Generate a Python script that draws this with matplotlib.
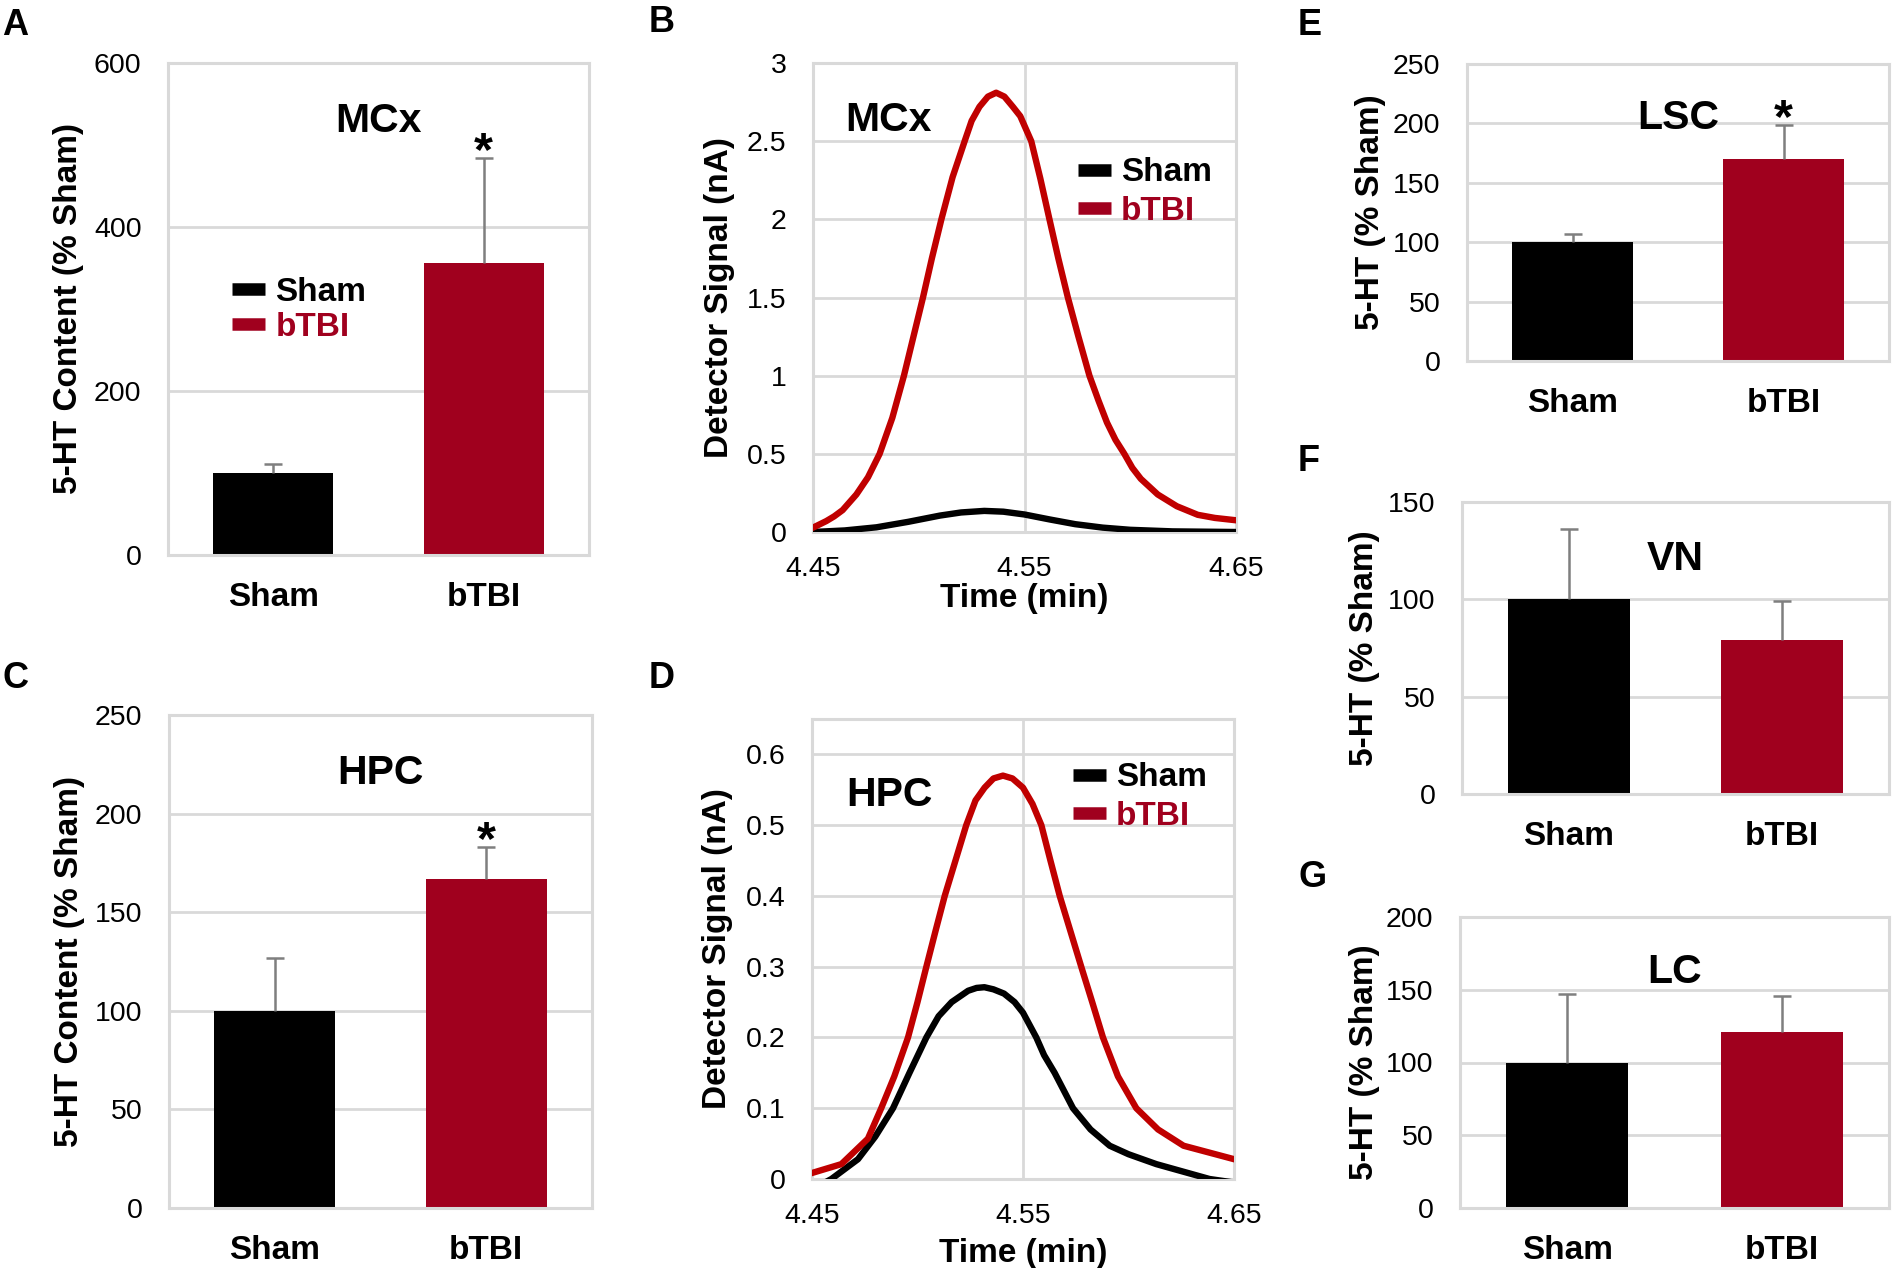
import matplotlib
matplotlib.use('Agg')
import matplotlib.pyplot as plt
from matplotlib.lines import Line2D
from matplotlib.ticker import FuncFormatter

plt.rcParams['font.family'] = ['Liberation Sans', 'DejaVu Sans']

# ---- data ----
groups = ['Sham', 'bTBI']

mcx_mean = [100, 356]
mcx_err = [11, 128]
hpc_mean = [100, 167]
hpc_err = [27, 16]
lsc_mean = [100, 170]
lsc_err = [7, 29]
vn_mean = [100, 79]
vn_err = [36, 20]
lc_mean = [100, 121]
lc_err = [47, 25]

# chromatograms, time (min) and detector signal (nA)
mcx_sham_t = [4.450, 4.465, 4.480, 4.495, 4.510, 4.520, 4.531, 4.540, 4.550, 4.562,
              4.574, 4.587, 4.600, 4.620, 4.650]
mcx_sham_v = [0.000, 0.010, 0.030, 0.065, 0.105, 0.125, 0.135, 0.130, 0.112, 0.080,
              0.050, 0.028, 0.014, 0.004, 0.000]
mcx_btbi_t = [4.4500, 4.4563, 4.4600, 4.4640, 4.4705, 4.4760, 4.4815, 4.4875, 4.4930,
              4.4975, 4.5020, 4.5062, 4.5107, 4.5160, 4.5217, 4.5250, 4.5287, 4.5327,
              4.5366, 4.5405, 4.5445, 4.5480, 4.5532, 4.5575, 4.5618, 4.5660, 4.5705,
              4.5755, 4.5807, 4.5850, 4.5890, 4.5930, 4.5972, 4.6010, 4.6050, 4.6130,
              4.6220, 4.6319, 4.6400, 4.6500]
mcx_btbi_v = [0.028, 0.07, 0.10, 0.14, 0.24, 0.35, 0.50, 0.73, 1.00,
              1.25, 1.50, 1.75, 2.00, 2.27, 2.50, 2.63, 2.72, 2.785,
              2.81, 2.785, 2.72, 2.66, 2.50, 2.26, 2.00, 1.75, 1.50,
              1.25, 1.00, 0.84, 0.70, 0.59, 0.50, 0.41, 0.34, 0.24,
              0.165, 0.11, 0.09, 0.075]

hpc_sham_t = [4.4500, 4.4592, 4.4718, 4.4800, 4.4884, 4.4962, 4.5042, 4.5100, 4.5162,
              4.5240, 4.5280, 4.5317, 4.5360, 4.5410, 4.5460, 4.5500, 4.5563, 4.5600,
              4.5650, 4.5737, 4.5820, 4.5911, 4.6000, 4.6132, 4.6384, 4.6500]
hpc_sham_v = [-0.015, 0.000, 0.028, 0.060, 0.100, 0.150, 0.200, 0.230, 0.250,
              0.266, 0.270, 0.271, 0.268, 0.262, 0.250, 0.235, 0.200, 0.175,
              0.150, 0.100, 0.070, 0.047, 0.035, 0.021, 0.000, -0.005]
hpc_btbi_t = [4.4500, 4.4639, 4.4765, 4.4828, 4.4890, 4.4955, 4.5000, 4.5042, 4.5085,
              4.5129, 4.5180, 4.5231, 4.5275, 4.5318, 4.5360, 4.5405, 4.5450, 4.5500,
              4.5545, 4.5587, 4.5630, 4.5674, 4.5725, 4.5776, 4.5828, 4.5879, 4.5950,
              4.6037, 4.6140, 4.6261, 4.6500]
hpc_btbi_v = [0.0085, 0.021, 0.057, 0.100, 0.145, 0.200, 0.250, 0.300, 0.350,
              0.400, 0.450, 0.500, 0.535, 0.553, 0.566, 0.570, 0.566, 0.553,
              0.530, 0.500, 0.450, 0.400, 0.350, 0.300, 0.250, 0.200, 0.145,
              0.100, 0.070, 0.047, 0.028]

# ---- style ----
W, H = 1892, 1268
grid_c = '#D9D9D9'
bar_red = '#A0001E'
line_red = '#C00000'
err_c = '#7F7F7F'
tick_fs = 20.5
lab_fs = 24
title_fs = 29.5
leg_fs = 24

fig = plt.figure(figsize=(W / 100, H / 100), dpi=100)


def make_ax(l, t, r, b):
    ax = fig.add_axes([l / W, 1 - b / H, (r - l) / W, (b - t) / H])
    for s in ax.spines.values():
        s.set_color(grid_c)
        s.set_linewidth(2.2)
    ax.tick_params(length=0, labelsize=tick_fs)
    ax.set_axisbelow(True)
    return ax


def legend(ax, xy, spacing):
    handles = [Line2D([], [], color='black', lw=9, solid_capstyle='butt'),
               Line2D([], [], color=bar_red, lw=9, solid_capstyle='butt')]
    ax.legend(handles, groups, loc='upper left', bbox_to_anchor=xy,
              frameon=False, borderpad=0, borderaxespad=0, handlelength=1.0,
              handletextpad=0.3, labelspacing=spacing,
              prop={'size': leg_fs, 'weight': 'bold'},
              labelcolor=['black', bar_red])


def bar_panel(rect, means, errs, ymax, step, ylabel, title, title_y, lab_x, star=False):
    ax = make_ax(*rect)
    x = list(range(len(groups)))
    tops = [m + e for m, e in zip(means, errs)]
    ax.bar(x, means, width=0.57, color=['black', bar_red], zorder=2)
    ax.vlines(x, means, tops, color=err_c, linewidth=1.8, zorder=3)
    ax.plot(x, tops, ls='none', marker='_', ms=12.6, mew=1.8, color=err_c, zorder=3)
    ax.set_xlim(-0.5, 1.5)
    ax.set_ylim(0, ymax)
    ax.set_yticks(range(0, ymax + 1, step))
    ax.set_xticks(x)
    ax.set_xticklabels(groups, fontsize=lab_fs, fontweight='bold')
    ax.tick_params(axis='x', pad=19.5)
    ax.tick_params(axis='y', pad=19)
    ax.yaxis.grid(True, color=grid_c, linewidth=2)
    ax.set_ylabel(ylabel, fontsize=lab_fs, fontweight='bold')
    ax.yaxis.set_label_coords(lab_x, 0.5)
    ax.text(0.5, title_y, title, transform=ax.transAxes, ha='center', va='baseline',
            fontsize=title_fs, fontweight='bold')
    if star:
        ax.annotate('*', (1, tops[1]), xytext=(0, -5), textcoords='offset points',
                    ha='center', va='baseline', fontsize=35, fontweight='bold')
    return ax


def trace_panel(rect, sham_t, sham_v, btbi_t, btbi_v, ymax, yticks, title, title_xy,
                leg_xy, lab_x, xlab_y):
    ax = make_ax(*rect)
    ax.plot(sham_t, sham_v, color='black', lw=4.6, solid_joinstyle='round', zorder=3)
    ax.plot(btbi_t, btbi_v, color=line_red, lw=4.6, solid_joinstyle='round', zorder=3)
    ax.set_xlim(4.45, 4.65)
    ax.set_ylim(0, ymax)
    ax.set_xticks([4.45, 4.55, 4.65])
    ax.set_yticks(yticks)
    fmt = FuncFormatter(lambda v, p: '%g' % round(v, 3))
    ax.xaxis.set_major_formatter(fmt)
    ax.yaxis.set_major_formatter(fmt)
    ax.tick_params(axis='x', pad=17.5)
    ax.tick_params(axis='y', pad=19)
    ax.grid(True, color=grid_c, linewidth=2)
    ax.set_ylabel('Detector Signal (nA)', fontsize=lab_fs, fontweight='bold')
    ax.yaxis.set_label_coords(lab_x, 0.5)
    ax.set_xlabel('Time (min)', fontsize=lab_fs, fontweight='bold')
    ax.xaxis.set_label_coords(0.5, xlab_y)
    ax.text(title_xy[0], title_xy[1], title, transform=ax.transAxes, ha='left',
            va='baseline', fontsize=title_fs, fontweight='bold')
    legend(ax, leg_xy, 0.22)
    return ax


# A
axA = bar_panel((168, 63, 589, 555), mcx_mean, mcx_err, 600, 200,
                '5-HT Content (% Sham)', 'MCx', 0.860, -0.20, star=True)
legend(axA, (0.152, 0.565), 0.11)

# B
trace_panel((813, 63, 1236, 532), mcx_sham_t, mcx_sham_v, mcx_btbi_t, mcx_btbi_v,
            3, [0, 0.5, 1, 1.5, 2, 2.5, 3], 'MCx', (0.076, 0.855), (0.626, 0.799),
            -0.184, -0.109)

# C
bar_panel((169, 715, 592, 1208), hpc_mean, hpc_err, 250, 50,
          '5-HT Content (% Sham)', 'HPC', 0.86, -0.199, star=True)

# D
trace_panel((812, 719, 1234, 1179), hpc_sham_t, hpc_sham_v, hpc_btbi_t, hpc_btbi_v,
            0.65, [0, 0.1, 0.2, 0.3, 0.4, 0.5, 0.6], 'HPC', (0.081, 0.811),
            (0.618, 0.906), -0.187, -0.128)

# E, F, G
bar_panel((1467, 64, 1889, 361), lsc_mean, lsc_err, 250, 50,
          '5-HT (% Sham)', 'LSC', 0.780, -0.192, star=True)
bar_panel((1462, 502, 1889, 794), vn_mean, vn_err, 150, 50,
          '5-HT (% Sham)', 'VN', 0.768, -0.192)
bar_panel((1460, 917, 1889, 1208), lc_mean, lc_err, 200, 50,
          '5-HT (% Sham)', 'LC', 0.774, -0.187)

# panel letters
for letter, px, py in [('A', 2, 35), ('B', 649, 32), ('C', 2, 688), ('D', 649, 688),
                       ('E', 1298, 35), ('F', 1298, 471), ('G', 1298, 887)]:
    fig.text(px / W, 1 - py / H, letter, ha='left', va='baseline',
             fontsize=26, fontweight='bold')

fig.savefig('out.png', dpi=100)
